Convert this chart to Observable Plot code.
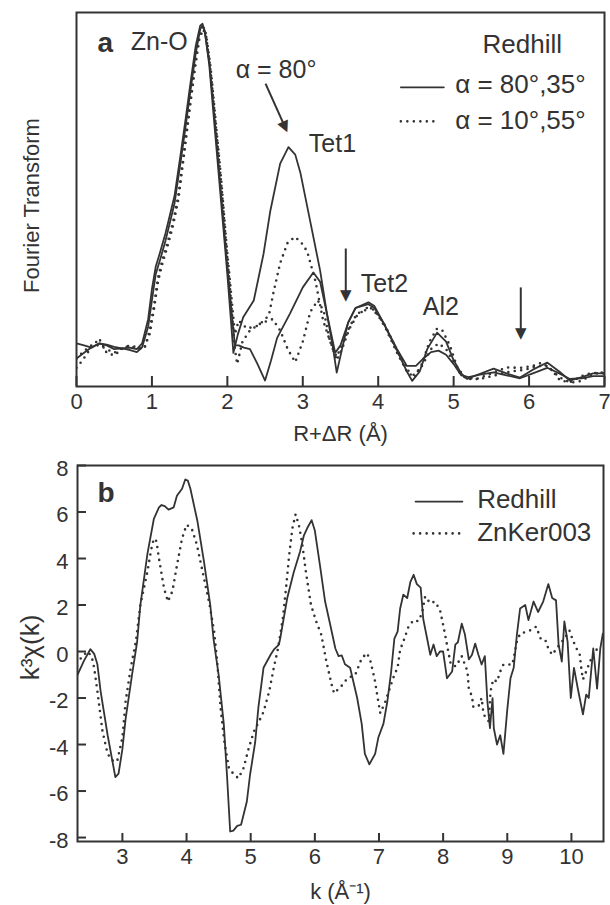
<!DOCTYPE html>
<html><head><meta charset="utf-8">
<script src="https://cdn.jsdelivr.net/npm/d3@7"></script>
<script src="https://cdn.jsdelivr.net/npm/@observablehq/plot@0.6"></script>
<style>
body{margin:0;background:#fff;}
#wrap{width:610px;}
#wrap svg{display:block;}
</style></head><body><div id="wrap"></div>
<script>
// ---------- Panel a : Fourier transform (arbitrary units, 0..100) ----------
const ftTicks = [0,1,2,3,4,5,6,7];
const ftR_80 = [0.00,0.10,0.20,0.30,0.40,0.50,0.60,0.70,0.80,0.87,0.95,1.00,1.05,1.11,1.18,1.24,1.30,1.38,1.45,1.51,1.58,1.64,1.67,1.70,1.76,1.82,1.88,1.94,2.00,2.05,2.08,2.14,2.21,2.35,2.48,2.57,2.70,2.81,2.90,2.97,3.10,3.23,3.32,3.40,3.45,3.52,3.60,3.70,3.87,3.95,4.07,4.25,4.38,4.45,4.55,4.65,4.78,4.90,5.00,5.10,5.18,5.30,5.53,5.70,5.88,6.05,6.24,6.40,6.54,6.70,6.85,7.00];
const ftV_80 = [11.5,11,10.4,11.5,11.2,10.6,10.2,10.4,10.0,11.5,18,26,32,36,41,46,51,62,72,81,91,96.5,97,95,86,72,58,44,30,17,9,14,18.5,23,35.5,47,59.6,64,62,57,44,31,19.5,10.4,3.7,10,17,21,22.5,21.5,17,9.6,4,1.5,4,10,14.4,12,7,3.5,2,3,4.8,3.5,2.4,4.5,6.4,4,1.6,2.5,3.5,3.5];
const ftR_35 = [0.00,0.10,0.20,0.30,0.40,0.50,0.60,0.70,0.80,0.87,0.95,1.00,1.05,1.11,1.18,1.24,1.30,1.38,1.45,1.51,1.58,1.64,1.67,1.70,1.76,1.82,1.88,1.94,2.00,2.06,2.10,2.15,2.22,2.30,2.40,2.50,2.58,2.66,2.83,3.00,3.14,3.23,3.32,3.43,3.50,3.60,3.70,3.87,3.95,4.07,4.25,4.38,4.50,4.60,4.70,4.80,4.90,5.00,5.10,5.20,5.35,5.53,5.70,5.88,6.05,6.24,6.40,6.54,6.70,6.85,7.00];
const ftV_35 = [7.5,9,10.5,11.5,11,10,10.2,9.8,9.2,10.5,16,23,30,34,39,44,49,60,70,79,89,95.5,96.5,95,87,74,60,46,32,19,11,11,10.4,10,6,1.6,7,13,19.5,26.5,30.5,28,19.5,9,11,17,21,22,21,17,10,5.5,5.5,7.5,9.2,9.6,8.5,6,3,2.5,3.2,3.8,3,2.2,3.5,5,3.5,2,2.2,2.8,2.8];
const ftR_10 = [0.00,0.08,0.18,0.30,0.40,0.50,0.60,0.70,0.80,0.90,0.97,1.03,1.08,1.14,1.20,1.28,1.35,1.42,1.50,1.57,1.63,1.69,1.72,1.78,1.85,1.92,1.98,2.04,2.10,2.15,2.26,2.41,2.50,2.55,2.61,2.70,2.80,2.90,3.00,3.06,3.17,3.27,3.39,3.45,3.52,3.62,3.72,3.90,4.00,4.10,4.25,4.38,4.48,4.58,4.68,4.78,4.85,4.95,5.05,5.15,5.30,5.50,5.70,5.90,6.05,6.17,6.30,6.41,6.55,6.70,6.81,7.00];
const ftV_10 = [5,7,10,12.8,9,8.3,10,11,10.5,10,15,22,29,34,38,44,51,62,75,86,94,96,94,85,70,55,40,27,14,17.6,15.5,16.3,18,19,25,33,38.5,40,38,36,28,17.6,10.4,8,11,16,19.5,21,19,15.5,9,4,2.4,6,12,15.5,15,11,5,2.5,2,3.5,5.1,5,5.5,6.4,4.5,1.6,1.2,2.8,3.5,3.8];
const ftR_55 = [0.00,0.10,0.20,0.30,0.40,0.50,0.60,0.70,0.80,0.90,0.97,1.03,1.08,1.14,1.20,1.28,1.35,1.42,1.50,1.57,1.63,1.68,1.72,1.78,1.85,1.92,1.98,2.04,2.10,2.13,2.20,2.30,2.45,2.60,2.70,2.80,2.90,3.00,3.10,3.20,3.28,3.35,3.45,3.52,3.62,3.72,3.85,3.95,4.10,4.25,4.38,4.48,4.58,4.70,4.80,4.90,5.00,5.10,5.20,5.35,5.55,5.75,5.95,6.10,6.24,6.40,6.55,6.70,6.85,7.00];
const ftV_55 = [7.5,9.5,11,11,10,9,10.3,10.8,10,10.5,14,21,28,33,37,43,50,61,74,85,93,95.5,93.5,84,69,54,39,25,10,6,12,15,17,18,15,10,6.5,12,20,23,20,13,7,10,15.5,19,21,20.5,16,9.5,4.5,3,5.5,10,11.5,10,6.5,3,2,2,3,4,4.5,5.5,5.5,2.5,1,1.5,3.5,3.5];

// ---------- Panel b : k^3 chi(k) ----------
const chiXTicks = [3,4,5,6,7,8,9,10];
const chiYTicks = [-8,-6,-4,-2,0,2,4,6,8];
const kRed = [2.30,2.40,2.50,2.56,2.61,2.66,2.77,2.89,2.94,3.00,3.05,3.15,3.23,3.28,3.39,3.49,3.57,3.61,3.66,3.72,3.80,3.85,3.93,3.98,4.02,4.06,4.17,4.27,4.37,4.42,4.50,4.58,4.63,4.68,4.73,4.79,4.85,4.94,4.99,5.07,5.12,5.20,5.31,5.36,5.44,5.46,5.57,5.67,5.77,5.83,5.88,5.95,6.00,6.08,6.16,6.24,6.32,6.37,6.42,6.47,6.55,6.66,6.73,6.78,6.85,6.94,6.99,7.07,7.13,7.19,7.24,7.29,7.33,7.38,7.44,7.49,7.54,7.59,7.65,7.69,7.75,7.80,7.85,7.90,7.95,8.00,8.06,8.14,8.19,8.23,8.29,8.34,8.40,8.45,8.50,8.55,8.60,8.65,8.69,8.73,8.77,8.79,8.84,8.89,8.94,9.00,9.05,9.10,9.15,9.20,9.28,9.33,9.41,9.48,9.56,9.64,9.70,9.76,9.80,9.85,9.89,9.94,9.99,10.04,10.10,10.18,10.23,10.27,10.34,10.40,10.45,10.49];
const chiRed = [-1.0,-0.4,0.1,-0.1,-0.55,-1.7,-3.6,-5.4,-5.25,-4.2,-2.9,-1.0,0.43,2.0,4.2,5.7,6.2,6.3,6.25,6.1,6.2,6.7,7.0,7.4,7.35,7.0,5.6,3.9,2.0,0.56,-1.0,-3.1,-5.3,-7.74,-7.7,-7.5,-7.45,-6.45,-5.3,-3.9,-2.4,-0.7,-0.14,0.08,0.3,0.56,2.3,3.4,4.3,5.0,5.3,5.65,5.2,3.7,2.15,1.15,0.13,-0.2,-0.17,-0.55,-0.7,-2.0,-3.1,-4.4,-4.85,-4.4,-3.7,-3.1,-2.15,-0.86,0.56,0.86,1.85,2.45,2.3,3.0,3.3,2.9,2.75,1.4,0.56,-0.14,0.3,-0.2,0,0,-1.15,-0.86,0.3,0.4,1.2,0.73,-0.34,-0.14,0.34,-0.14,-0.56,-0.2,-2.15,-3.3,-2.0,-3.3,-4.0,-3.6,-4.4,-2.5,-1.15,-0.7,0.73,1.85,2.0,1.35,2.15,1.7,2.15,2.9,2.3,2.2,0.3,-0.43,1.3,0.43,-2.0,-0.7,-1.6,-2.7,-1.85,-2.0,0.13,-1.6,0.13,0.77];
const kZn = [2.35,2.45,2.52,2.56,2.61,2.69,2.77,2.82,2.87,2.92,3.00,3.05,3.13,3.21,3.28,3.39,3.45,3.49,3.53,3.57,3.65,3.71,3.78,3.85,3.93,4.00,4.08,4.16,4.25,4.36,4.43,4.48,4.53,4.59,4.66,4.74,4.81,4.89,4.97,5.05,5.13,5.20,5.29,5.36,5.42,5.50,5.55,5.60,5.65,5.70,5.75,5.80,5.86,5.94,6.02,6.10,6.13,6.18,6.26,6.30,6.41,6.51,6.63,6.73,6.81,6.86,6.93,6.98,7.02,7.10,7.19,7.24,7.29,7.33,7.38,7.46,7.54,7.61,7.67,7.72,7.80,7.87,7.95,8.00,8.03,8.08,8.12,8.20,8.29,8.38,8.40,8.45,8.47,8.55,8.60,8.63,8.71,8.74,8.78,8.84,8.89,8.94,9.08,9.15,9.20,9.31,9.39,9.45,9.52,9.59,9.64,9.70,9.77,9.85,9.88,9.97,10.02,10.08,10.13,10.16,10.18,10.23,10.28,10.37,10.42];
const chiZn = [-0.3,0.0,-0.2,-0.7,-1.7,-3.44,-4.4,-4.6,-4.75,-4.7,-3.7,-2.15,-0.7,0.43,2.0,3.44,4.4,4.86,4.75,4.0,2.7,2.15,2.6,3.7,4.86,5.45,5.3,4.6,3.44,2.0,0.86,-0.5,-2.4,-3.9,-5.0,-5.3,-5.45,-5.0,-4.15,-3.44,-3.0,-2.6,-1.7,-0.7,0.05,1.4,2.7,4.15,5.3,5.9,5.45,4.7,3.44,2.0,1.3,0.73,0.3,-0.43,-1.4,-1.8,-1.5,-1.15,-1.0,-0.3,-0.07,-0.34,-1.15,-2.0,-2.65,-2.15,-1.4,-1.0,-0.7,0.08,0.43,1.07,1.35,1.3,1.63,2.37,2.07,2.15,1.8,1.15,0.73,0,-0.56,-0.64,-0.2,-0.86,-1.6,-1.93,-2.37,-2.37,-2.0,-2.7,-3.0,-1.7,-1.2,-1.3,-0.86,-0.56,-0.56,0.43,0.77,0.86,0.95,1.07,0.56,0.52,0.13,-0.14,0.13,0.43,0.5,0.9,0.5,0.13,-0.14,-0.86,-1.2,-0.86,-0.5,0.08,0.08];

// ---------- Texts ----------
const panelA = "a", panelB = "b";
const ftXLabel = "R+\u0394R (\u00C5)";
const ftYLabel = "Fourier Transform";
const chiXLabel = "k (\u00C5\u207B\u00B9)";
const chiYLabel = "k\u00B3\u03C7(k)";
const ftLegendTitle = "Redhill";
const ftLegendLabels = ["\u03B1 = 80\u00B0,35\u00B0", "\u03B1 = 10\u00B0,55\u00B0"];
const chiLegendLabels = ["Redhill", "ZnKer003"];

const INK = "#333";
const FONT = "'Liberation Sans', Arial, Helvetica, sans-serif";
const zip = (xs, ys) => xs.map((x, i) => ({x, y: ys[i]}));
const solid = {x: "x", y: "y", stroke: INK, strokeWidth: 1.8};
const dotted = {x: "x", y: "y", stroke: INK, strokeWidth: 2.6, strokeDasharray: "0 6.5", strokeLinecap: "round"};
const head = (d, rot) => Plot.text([d], {x: "x", y: "y", text: () => "\u25BC", rotate: rot, fontSize: 15, fill: INK, fontFamily: "DejaVu Sans"});

// Annotations of panel a (data coordinates)
const annA = [
  {t: "Zn-O", x: 0.72, y: 92.2},
  {t: "\u03B1 = 80\u00B0", x: 2.11, y: 84.6},
  {t: "Tet1", x: 3.08, y: 64.8},
  {t: "Tet2", x: 3.77, y: 27.4},
  {t: "Al2", x: 4.59, y: 21.2}
];

const pa = Plot.plot({
  width: 610, height: 460,
  marginLeft: 76, marginRight: 6, marginTop: 12, marginBottom: 74,
  x: {domain: [0, 7]},
  y: {domain: [0, 100], axis: null},
  style: {fontFamily: FONT, color: INK, background: "white", overflow: "visible"},
  marks: [
    Plot.line(zip(ftR_80, ftV_80), {...solid, clip: true}),
    Plot.line(zip(ftR_35, ftV_35), {...solid, clip: true}),
    Plot.line(zip(ftR_10, ftV_10), {...dotted, clip: true}),
    Plot.line(zip(ftR_55, ftV_55), {...dotted, clip: true}),
    Plot.frame({stroke: INK, strokeWidth: 2}),
    Plot.tickX(ftTicks, {x: d => d, insetTop: 364, stroke: INK, strokeWidth: 2}),
    Plot.axisX({ticks: ftTicks, tickSize: 0, tickPadding: 7, fontSize: 22, label: null, tickFormat: d => String(d)}),
    Plot.text([ftXLabel], {frameAnchor: "bottom", lineAnchor: "middle", textAnchor: "middle", dy: 47, fontSize: 22, fill: INK}),
    Plot.text([ftYLabel], {frameAnchor: "left", lineAnchor: "middle", textAnchor: "middle", rotate: -90, dx: -45, dy: 6, fontSize: 22, fill: INK}),
    Plot.text([panelA], {x: 0.28, y: 91.8, textAnchor: "start", fontSize: 28, fontWeight: "bold", fill: INK}),
    Plot.text(annA, {x: "x", y: "y", text: "t", textAnchor: "start", fontSize: 25, fill: INK}),
    // arrows
    Plot.link([{x1: 2.506, y1: 81.0, x2: 2.759, y2: 69.6}], {x1: "x1", y1: "y1", x2: "x2", y2: "y2", stroke: INK, strokeWidth: 2}),
    head({x: 2.759, y: 69.6}, -24),
    Plot.link([{x1: 3.57, y1: 36.9, x2: 3.57, y2: 24.5}], {x1: "x1", y1: "y1", x2: "x2", y2: "y2", stroke: INK, strokeWidth: 2}),
    head({x: 3.57, y: 24.3}, 0),
    Plot.link([{x1: 5.89, y1: 26.5, x2: 5.89, y2: 14.5}], {x1: "x1", y1: "y1", x2: "x2", y2: "y2", stroke: INK, strokeWidth: 2}),
    head({x: 5.89, y: 14.2}, 0),
    // legend
    Plot.text([ftLegendTitle], {x: 5.91, y: 91.3, fontSize: 26, fill: INK}),
    Plot.line([{x: 4.30, y: 80}, {x: 4.87, y: 80}], solid),
    Plot.line([{x: 4.30, y: 70.9}, {x: 4.80, y: 70.9}], dotted),
    Plot.text(ftLegendLabels.map((t, i) => ({t, y: [80.8, 71.2][i]})), {x: 5.02, y: "y", text: "t", textAnchor: "start", fontSize: 26, fill: INK})
  ]
});

const pb = Plot.plot({
  width: 610, height: 445,
  marginLeft: 77, marginRight: 7, marginTop: 5, marginBottom: 64,
  x: {domain: [2.3, 10.5]},
  y: {domain: [-8.17, 8]},
  style: {fontFamily: FONT, color: INK, background: "white", overflow: "visible"},
  marks: [
    Plot.line(zip(kRed, chiRed), {...solid, clip: true}),
    Plot.line(zip(kZn, chiZn), {...dotted, clip: true}),
    Plot.frame({stroke: INK, strokeWidth: 2}),
    Plot.tickX(chiXTicks, {x: d => d, insetTop: 368, stroke: INK, strokeWidth: 2}),
    Plot.tickY(chiYTicks, {y: d => d, insetRight: 517, stroke: INK, strokeWidth: 2}),
    Plot.axisX({ticks: chiXTicks, tickSize: 0, tickPadding: 7, fontSize: 22, label: null, tickFormat: d => String(d)}),
    Plot.axisY({ticks: chiYTicks, tickSize: 0, tickPadding: 9, dy: 3, fontSize: 22, label: null, tickFormat: d => String(d)}),
    Plot.text([chiXLabel], {frameAnchor: "bottom", lineAnchor: "middle", textAnchor: "middle", dy: 50, fontSize: 22, fill: INK}),
    Plot.text([chiYLabel], {frameAnchor: "left", lineAnchor: "middle", textAnchor: "middle", rotate: -90, dx: -47, dy: -6, fontSize: 26, fill: INK}),
    Plot.text([panelB], {x: 2.61, y: 6.8, textAnchor: "start", fontSize: 28, fontWeight: "bold", fill: INK}),
    // legend
    Plot.line([{x: 7.57, y: 6.45}, {x: 8.30, y: 6.45}], solid),
    Plot.line([{x: 7.54, y: 5.08}, {x: 8.27, y: 5.08}], dotted),
    Plot.text(chiLegendLabels.map((t, i) => ({t, y: [6.51, 5.09][i]})), {x: 8.53, y: "y", text: "t", textAnchor: "start", fontSize: 26, fill: INK})
  ]
});

document.getElementById("wrap").append(pa, pb);
</script>
</body></html>
